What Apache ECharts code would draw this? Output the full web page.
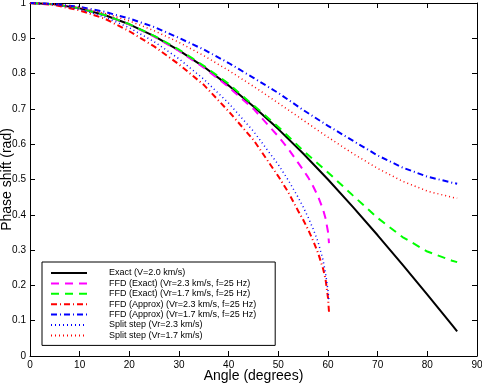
<!DOCTYPE html>
<html>
<head>
<meta charset="utf-8">
<title>Phase shift vs angle</title>
<script src="https://cdn.jsdelivr.net/npm/echarts@6/dist/echarts.min.js"></script>
<style>
  html, body { margin: 0; padding: 0; background: #fff; }
  #chart { width: 482px; height: 385px; }
</style>
</head>
<body>
<div id="chart"></div>
<script>
// angles (degrees) for the curves that run over the whole range
const fullAngles = [0, 5, 10, 15, 20, 25, 30, 35, 40, 45, 50, 55, 60, 65, 70, 75, 80, 85, 86]
const exactVals = [1, 0.9962, 0.9848, 0.9659, 0.9397, 0.9063, 0.866, 0.8192, 0.766, 0.7071, 0.6428, 0.5736, 0.5, 0.4226, 0.342, 0.2588, 0.1736, 0.0872, 0.0698]
const ffdExact17Vals = [1, 0.996, 0.985, 0.966, 0.94, 0.907, 0.868, 0.822, 0.771, 0.71, 0.649, 0.582, 0.52, 0.455, 0.391, 0.337, 0.296, 0.27, 0.266]
const ffdApprox17Vals = [1, 0.997, 0.989, 0.975, 0.956, 0.932, 0.901, 0.868, 0.83, 0.788, 0.745, 0.697, 0.652, 0.61, 0.568, 0.534, 0.508, 0.491, 0.488]
const split17Vals = [1, 0.9968, 0.9871, 0.9712, 0.9492, 0.9215, 0.8885, 0.8507, 0.8089, 0.7638, 0.7164, 0.668, 0.6198, 0.5737, 0.5314, 0.4952, 0.4671, 0.4494, 0.4472]

// angles for the Vr=2.3 curves, which stop near 60 degrees
const shortAngles = [0, 5, 10, 15, 20, 25, 30, 35, 40, 45, 50, 52, 54, 55, 56, 57, 58, 59, 59.5, 60, 60.2]
const ffdExact23Vals = [1, 0.996, 0.985, 0.966, 0.939, 0.905, 0.864, 0.817, 0.762, 0.7, 0.622, 0.587, 0.547, 0.527, 0.506, 0.481, 0.452, 0.415, 0.39, 0.352, 0.32]
const ffdApprox23Vals = [1, 0.994, 0.979, 0.956, 0.92, 0.877, 0.826, 0.768, 0.693, 0.612, 0.509, 0.464, 0.411, 0.386, 0.358, 0.327, 0.292, 0.248, 0.218, 0.165, 0.125]
const split23Vals = [1, 0.9956, 0.9825, 0.9606, 0.9299, 0.8904, 0.8419, 0.784, 0.7161, 0.6365, 0.5419, 0.4981, 0.4492, 0.4222, 0.3928, 0.3602, 0.323, 0.272, 0.235, 0.185, 0.155]

const seriesNames = [
  'Exact (V=2.0 km/s)',
  'FFD (Exact) (Vr=2.3 km/s, f=25 Hz)',
  'FFD (Exact) (Vr=1.7 km/s, f=25 Hz)',
  'FFD (Approx) (Vr=2.3 km/s, f=25 Hz)',
  'FFD (Approx) (Vr=1.7 km/s, f=25 Hz)',
  'Split step (Vr=2.3 km/s)',
  'Split step (Vr=1.7 km/s)'
]
const seriesColors = ['#000000', '#ff00ff', '#00ff00', '#ff0000', '#0000ff', '#0000ff', '#ff0000']
const seriesDash = ['solid', [8, 6], [8, 6], [6, 3, 1, 3], [6, 3, 1, 3], [1, 3], [1, 3]]
const seriesWidth = [2, 2, 2, 2, 2, 1.5, 1.5]

const xTicks = [0, 10, 20, 30, 40, 50, 60, 70, 80, 90]
const yTicks = [0, 0.1, 0.2, 0.3, 0.4, 0.5, 0.6, 0.7, 0.8, 0.9, 1]

const FONT = '"Liberation Sans", Arial, Helvetica, sans-serif'

function pairs(xs, ys) {
  return xs.map((x, i) => [x, ys[i]])
}

function lineSeries(i, xs, ys) {
  return {
    name: seriesNames[i],
    type: 'line',
    data: pairs(xs, ys),
    symbol: 'none',
    showSymbol: false,
    animation: false,
    lineStyle: { color: seriesColors[i], width: seriesWidth[i], type: seriesDash[i], cap: 'butt' },
    itemStyle: { color: seriesColors[i] }
  }
}

const chart = echarts.init(document.getElementById('chart'))

// black box with inward ticks on all four sides
const tickStyle = { show: true, inside: true, length: 5, lineStyle: { color: '#000', width: 1 } }
const lineStyle = { show: true, onZero: false, lineStyle: { color: '#000', width: 1 } }

// legend entries: line sample only, no marker dot
const legendData = seriesNames.map((name, i) => ({
  name: name,
  itemStyle: { opacity: 0 },
  lineStyle: { color: seriesColors[i], width: 2, type: seriesDash[i], opacity: 1 }
}))

const option = {
  backgroundColor: '#fff',
  animation: false,
  grid: { left: 30, right: 5, top: 3, bottom: 29, outerBoundsMode: 'none', containLabel: false },
  legend: {
    data: legendData,
    orient: 'vertical',
    left: 42,
    top: 262,
    padding: [6, 19, 5, 8],
    itemWidth: 36,
    itemHeight: 8,
    itemGap: 0.4,
    backgroundColor: '#fff',
    borderColor: '#000',
    borderWidth: 1,
    borderRadius: 0,
    textStyle: { fontFamily: FONT, fontSize: 9, lineHeight: 10, color: '#000', padding: [0, 0, 0, 17] }
  },
  xAxis: [
    {
      type: 'value',
      min: xTicks[0],
      max: xTicks[xTicks.length - 1],
      interval: 10,
      name: 'Angle (degrees)',
      nameLocation: 'middle',
      nameGap: 13,
      nameMoveOverlap: false,
      nameTextStyle: { fontFamily: FONT, fontSize: 14, color: '#000' },
      axisLine: lineStyle,
      axisTick: tickStyle,
      axisLabel: { fontFamily: FONT, fontSize: 10, color: '#000', margin: 4 },
      splitLine: { show: false }
    },
    {
      type: 'value',
      position: 'top',
      min: xTicks[0],
      max: xTicks[xTicks.length - 1],
      interval: 10,
      axisLine: lineStyle,
      axisTick: tickStyle,
      axisLabel: { show: false },
      splitLine: { show: false }
    }
  ],
  yAxis: [
    {
      type: 'value',
      min: yTicks[0],
      max: yTicks[yTicks.length - 1],
      interval: 0.1,
      name: 'Phase shift (rad)',
      nameLocation: 'middle',
      nameRotate: 90,
      nameGap: 16,
      nameMoveOverlap: false,
      nameTextStyle: { fontFamily: FONT, fontSize: 14, color: '#000' },
      axisLine: lineStyle,
      axisTick: tickStyle,
      axisLabel: { fontFamily: FONT, fontSize: 10, color: '#000', margin: 4 },
      splitLine: { show: false }
    },
    {
      type: 'value',
      position: 'right',
      min: yTicks[0],
      max: yTicks[yTicks.length - 1],
      interval: 0.1,
      axisLine: lineStyle,
      axisTick: tickStyle,
      axisLabel: { show: false },
      splitLine: { show: false }
    }
  ],
  series: [
    lineSeries(0, fullAngles, exactVals),
    lineSeries(1, shortAngles, ffdExact23Vals),
    lineSeries(2, fullAngles, ffdExact17Vals),
    lineSeries(3, shortAngles, ffdApprox23Vals),
    lineSeries(4, fullAngles, ffdApprox17Vals),
    lineSeries(5, shortAngles, split23Vals),
    lineSeries(6, fullAngles, split17Vals)
  ]
}

chart.setOption(option)
</script>
</body>
</html>
